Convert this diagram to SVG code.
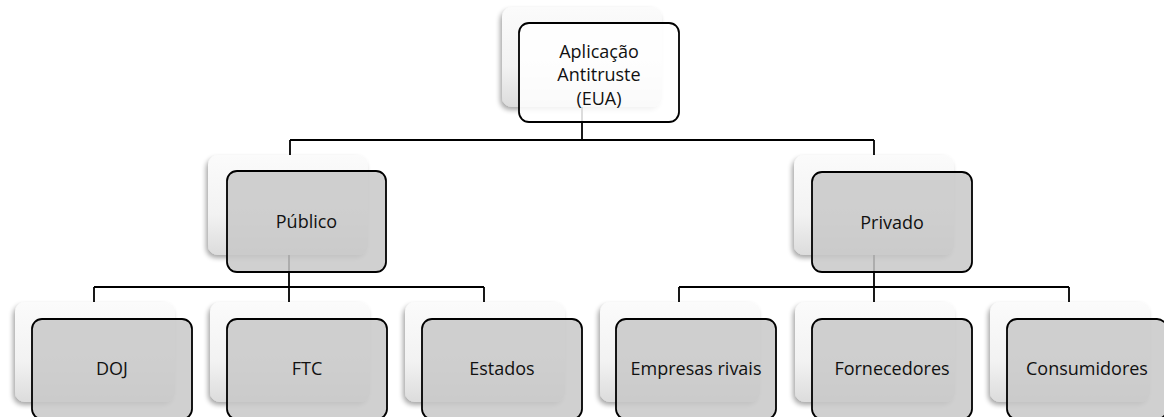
<svg xmlns="http://www.w3.org/2000/svg" width="1164" height="417" viewBox="0 0 1164 417">
  <defs>
    <linearGradient id="backGrad" x1="0" y1="0" x2="0" y2="1">
      <stop offset="0" stop-color="#fbfbfb"/>
      <stop offset="0.6" stop-color="#f2f2f2"/>
      <stop offset="1" stop-color="#dcdcdc"/>
    </linearGradient>
    <filter id="shadow" x="-20%" y="-20%" width="140%" height="150%">
      <feGaussianBlur in="SourceAlpha" stdDeviation="2.5"/>
      <feOffset dx="-2" dy="3" result="b"/>
      <feComponentTransfer><feFuncA type="linear" slope="0.35"/></feComponentTransfer>
      <feMerge><feMergeNode/><feMergeNode in="SourceGraphic"/></feMerge>
    </filter>
    <style>
      .back { fill: url(#backGrad); stroke: none; filter: url(#shadow); }
      .front { fill: #c8c8c8; fill-opacity: 0.85; stroke: #000; stroke-width: 1.8; }
      .front-top { fill: #ffffff; fill-opacity: 0.85; stroke: #000; stroke-width: 1.8; }
      .conn { fill: none; stroke: #000; stroke-width: 1.8; }
      .lbl { font-family: "Open Sans", "Liberation Sans", sans-serif; font-size: 18px; fill: #111; text-anchor: middle; }
    </style>
  </defs>
  <rect width="1164" height="417" fill="#ffffff"/>

  <g id="connectors">
    <path class="conn" d="M582 107 V140 M290 140 H874 M290 140 V156 M874 140 V156"/>
    <path class="conn" d="M289 255 V287 M94 287 H484 M94 287 V302 M289 287 V302 M484 287 V302"/>
    <path class="conn" d="M874 255 V287 M679 287 H1069 M679 287 V302 M874 287 V302 M1069 287 V302"/>
  </g>

  <g id="node-aplicacao">
    <rect class="back" x="502" y="7" width="160" height="100" rx="10"/>
    <rect class="front-top" x="519" y="23" width="160" height="99" rx="10"/>
    <text class="lbl" x="599" y="57.5">Aplicação</text>
    <text class="lbl" x="599" y="81">Antitruste</text>
    <text class="lbl" x="599" y="104.5">(EUA)</text>
  </g>

  <g id="node-publico">
    <rect class="back" x="208" y="155" width="160" height="100" rx="10"/>
    <rect class="front" x="227" y="171" width="159" height="101" rx="10"/>
    <text class="lbl" x="306.5" y="228">Público</text>
  </g>

  <g id="node-privado">
    <rect class="back" x="794" y="155" width="160" height="100" rx="10"/>
    <rect class="front" x="812" y="172" width="160" height="100" rx="10"/>
    <text class="lbl" x="892" y="229">Privado</text>
  </g>

  <g id="node-doj">
    <rect class="back" x="15" y="302" width="160" height="100" rx="10"/>
    <rect class="front" x="32" y="319" width="160" height="100" rx="10"/>
    <text class="lbl" x="112" y="375">DOJ</text>
  </g>

  <g id="node-ftc">
    <rect class="back" x="210" y="302" width="160" height="100" rx="10"/>
    <rect class="front" x="227" y="319" width="160" height="100" rx="10"/>
    <text class="lbl" x="307" y="375">FTC</text>
  </g>

  <g id="node-estados">
    <rect class="back" x="405" y="302" width="160" height="100" rx="10"/>
    <rect class="front" x="422" y="319" width="160" height="100" rx="10"/>
    <text class="lbl" x="502" y="375">Estados</text>
  </g>

  <g id="node-empresas">
    <rect class="back" x="600" y="302" width="160" height="100" rx="10"/>
    <rect class="front" x="616" y="319" width="160" height="100" rx="10"/>
    <text class="lbl" x="696" y="375">Empresas rivais</text>
  </g>

  <g id="node-fornecedores">
    <rect class="back" x="795" y="302" width="160" height="100" rx="10"/>
    <rect class="front" x="812" y="319" width="160" height="100" rx="10"/>
    <text class="lbl" x="892" y="375">Fornecedores</text>
  </g>

  <g id="node-consumidores">
    <rect class="back" x="990" y="302" width="160" height="100" rx="10"/>
    <rect class="front" x="1007" y="319" width="160" height="100" rx="10"/>
    <text class="lbl" x="1087" y="375">Consumidores</text>
  </g>
</svg>
